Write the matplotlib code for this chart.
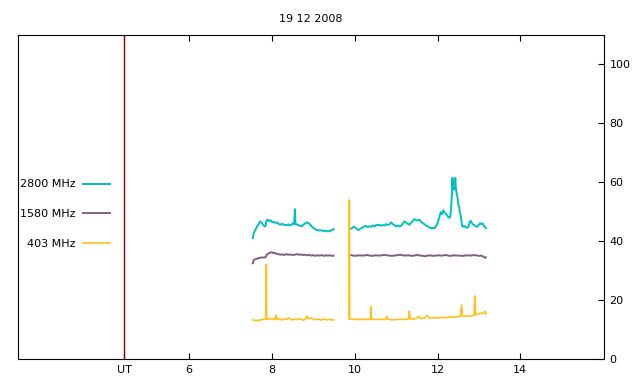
import matplotlib

matplotlib.use("Agg")
import matplotlib.pyplot as plt

# radio flux, 19 12 2008 -- two observing blocks with a gap around 9.5-9.85 UT
t_2800_a = [7.54, 7.56, 7.58, 7.61, 7.64, 7.68, 7.72, 7.75, 7.79, 7.83, 7.85, 7.87,
            7.90, 7.93, 7.97, 8.00, 8.04, 8.08, 8.12, 8.16, 8.20, 8.25, 8.30, 8.35,
            8.40, 8.45, 8.50, 8.54, 8.555, 8.57, 8.63, 8.68, 8.72, 8.76, 8.80, 8.85,
            8.90, 8.95, 9.00, 9.05, 9.10, 9.15, 9.20, 9.25, 9.30, 9.35, 9.40, 9.45, 9.49]
v_2800_a = [41.0, 42.5, 43.3, 44.0, 45.0, 45.8, 46.7, 46.3, 45.5, 45.0, 45.2, 47.0,
            47.3, 46.8, 47.1, 46.5, 46.6, 46.2, 46.4, 45.9, 45.6, 45.9, 45.5, 45.4,
            45.7, 45.3, 46.0, 45.8, 50.9, 45.9, 45.5, 45.2, 45.0, 45.6, 46.0, 46.4,
            46.0, 45.2, 44.5, 44.0, 43.8, 43.6, 43.7, 43.4, 43.6, 43.3, 43.5, 43.7, 44.1]

t_2800_b = [9.86, 9.90, 9.94, 9.98, 10.02, 10.06, 10.10, 10.14, 10.18, 10.22, 10.27,
            10.31, 10.35, 10.40, 10.44, 10.48, 10.52, 10.56, 10.60, 10.64, 10.68, 10.72,
            10.76, 10.80, 10.84, 10.88, 10.92, 10.96, 11.00, 11.04, 11.08, 11.12, 11.16,
            11.20, 11.24, 11.28, 11.32, 11.36, 11.40, 11.44, 11.48, 11.52, 11.56, 11.60,
            11.64, 11.68, 11.72, 11.76, 11.80, 11.84, 11.88, 11.92, 11.96, 12.00, 12.03,
            12.06, 12.08, 12.11, 12.14, 12.17, 12.20, 12.23, 12.26, 12.29, 12.31, 12.33,
            12.35, 12.36, 12.37, 12.38, 12.40, 12.41, 12.43, 12.44, 12.46, 12.48, 12.50,
            12.52, 12.54, 12.56, 12.58, 12.60, 12.64, 12.68, 12.72, 12.76, 12.78, 12.81,
            12.84, 12.88, 12.92, 12.96, 13.00, 13.03, 13.06, 13.09, 13.12, 13.15, 13.17]
v_2800_b = [44.4, 44.2, 44.5, 44.9, 44.5, 44.0, 43.8, 44.3, 44.6, 44.9, 45.2,
            44.8, 45.0, 44.9, 45.3, 45.0, 45.6, 45.4, 45.6, 45.2, 45.5, 45.3,
            45.8, 45.5, 45.7, 46.4, 45.8, 45.4, 45.1, 45.3, 45.0, 45.2, 46.0,
            46.7, 46.3, 45.9, 45.6, 46.2, 46.8, 47.5, 47.2, 47.0, 47.3, 46.6,
            46.2, 45.8, 45.3, 45.0, 44.7, 44.4, 44.5, 44.4, 45.0, 46.1, 47.5,
            49.0, 49.9, 49.2, 50.5, 49.8, 49.3, 48.8, 48.2, 47.9, 48.5, 52.0,
            56.3, 61.5, 58.0, 60.5, 57.5, 59.0, 61.5, 58.5, 56.3, 55.0, 52.5,
            51.8, 49.5, 48.8, 46.5, 44.9, 45.2, 44.8, 44.5, 45.5, 46.7, 46.8,
            45.9, 45.5, 45.0, 44.9, 45.6, 46.1, 45.8, 46.0, 45.2, 44.8, 44.4]

t_1580_a = [7.54, 7.56, 7.60, 7.65, 7.70, 7.75, 7.80, 7.85, 7.88, 7.92, 7.96, 8.00,
            8.04, 8.08, 8.12, 8.16, 8.20, 8.25, 8.30, 8.35, 8.40, 8.45, 8.50, 8.55,
            8.60, 8.65, 8.70, 8.75, 8.80, 8.85, 8.90, 8.95, 9.00, 9.05, 9.10, 9.15,
            9.20, 9.25, 9.30, 9.35, 9.40, 9.45, 9.49]
v_1580_a = [32.5, 33.6, 33.9, 34.1, 34.3, 34.5, 34.4, 34.6, 35.5, 35.8, 36.1, 36.3,
            35.9, 36.0, 35.7, 35.6, 35.4, 35.5, 35.3, 35.6, 35.4, 35.5, 35.3, 35.4,
            35.6, 35.4, 35.5, 35.3, 35.4, 35.2, 35.4, 35.1, 35.3, 35.0, 35.2, 35.1,
            35.3, 35.0, 35.2, 35.1, 35.2, 35.0, 35.1]

t_1580_b = [9.86, 9.90, 10.0, 10.1, 10.2, 10.3, 10.4, 10.5, 10.6, 10.7, 10.8, 10.9,
            11.0, 11.1, 11.2, 11.3, 11.4, 11.5, 11.6, 11.7, 11.8, 11.9, 12.0, 12.1,
            12.2, 12.3, 12.4, 12.5, 12.6, 12.7, 12.8, 12.9, 13.0, 13.05, 13.10, 13.14, 13.17]
v_1580_b = [35.1, 35.3, 35.0, 35.2, 35.1, 35.3, 35.0, 35.2, 35.1, 35.3, 35.2, 35.0,
            35.2, 35.4, 35.1, 35.2, 35.0, 35.3, 35.1, 34.9, 35.2, 35.0, 35.2, 35.1,
            35.3, 35.0, 35.2, 35.1, 35.0, 35.2, 35.1, 35.3, 35.0, 35.1, 34.8, 34.4, 34.5]

t_403_a = [7.54, 7.58, 7.62, 7.66, 7.70, 7.74, 7.78, 7.82, 7.85, 7.86, 7.865, 7.87,
           7.875, 7.90, 7.95, 8.00, 8.05, 8.08, 8.10, 8.12, 8.20, 8.25, 8.30, 8.35,
           8.40, 8.45, 8.50, 8.55, 8.60, 8.65, 8.70, 8.75, 8.80, 8.85, 8.87, 8.90,
           8.95, 9.00, 9.05, 9.10, 9.15, 9.20, 9.25, 9.30, 9.35, 9.40, 9.45, 9.49]
v_403_a = [13.3, 13.0, 13.2, 12.9, 13.3, 13.2, 13.5, 13.4, 13.6, 22.6, 32.0, 22.0,
           13.6, 13.5, 13.8, 13.4, 13.7, 13.3, 14.9, 13.5, 13.6, 13.2, 13.6, 13.4,
           14.0, 13.5, 13.3, 13.5, 13.4, 13.7, 13.5, 13.2, 13.4, 14.6, 13.6, 13.8,
           13.9, 13.6, 13.3, 13.5, 13.4, 13.2, 13.6, 13.4, 13.3, 13.5, 13.2, 13.3]

t_403_b = [9.86, 9.87, 9.88, 9.92, 10.0, 10.1, 10.2, 10.3, 10.38, 10.39, 10.40, 10.45,
           10.5, 10.6, 10.7, 10.75, 10.78, 10.8, 10.9, 11.0, 11.1, 11.2, 11.3, 11.32,
           11.34, 11.4, 11.5, 11.55, 11.6, 11.7, 11.75, 11.8, 11.9, 12.0, 12.1, 12.2,
           12.3, 12.4, 12.5, 12.55, 12.58, 12.6, 12.7, 12.8, 12.88, 12.9, 12.92, 13.0,
           13.05, 13.1, 13.15, 13.17]
v_403_b = [13.6, 54.0, 13.6, 13.5, 13.5, 13.4, 13.5, 13.4, 13.5, 17.8, 13.6, 13.5,
           13.4, 13.5, 13.4, 13.5, 14.5, 13.5, 13.3, 13.4, 13.5, 13.4, 13.6, 16.2,
           13.7, 13.5, 13.8, 14.5, 13.7, 14.0, 14.8, 13.9, 14.0, 13.9, 14.1, 14.0,
           14.3, 14.2, 14.4, 14.6, 18.4, 14.5, 14.6, 14.5, 14.9, 21.4, 15.0, 15.3,
           15.6, 15.4, 16.2, 15.3]

sunrise = 4.43
xticks = [sunrise, 6, 8, 10, 12, 14]
xticklabels = ["UT", "6", "8", "10", "12", "14"]
yticks = [0, 20, 40, 60, 80, 100]

c2800 = "#00c0c0"
c1580 = "#806080"
c403 = "#ffc020"

plt.rcParams["font.family"] = "DejaVu Sans"
plt.rcParams["font.size"] = 8

fig = plt.figure(figsize=(6.4, 3.84), dpi=100)
ax = fig.add_axes([0.0281, 0.0651, 0.9157, 0.8438])

ax.axvline(sunrise, color="#8b0000", lw=1.0)

ax.plot(t_2800_a, v_2800_a, color=c2800, lw=1.4, label="2800 MHz")
ax.plot(t_2800_b, v_2800_b, color=c2800, lw=1.4)
ax.plot(t_1580_a, v_1580_a, color=c1580, lw=1.4, label="1580 MHz")
ax.plot(t_1580_b, v_1580_b, color=c1580, lw=1.4)
ax.plot(t_403_a, v_403_a, color=c403, lw=1.2, label="403 MHz")
ax.plot(t_403_b, v_403_b, color=c403, lw=1.2)

ax.set_xlim(1.87, 16.02)
ax.set_ylim(0, 110)

ax.set_xticks(xticks)
ax.set_xticklabels(xticklabels)
ax.set_yticks(yticks)
ax.yaxis.tick_right()
ax.tick_params(axis="x", direction="in", length=4, width=0.8, top=True, pad=4)
ax.tick_params(axis="y", direction="in", length=4, width=0.8, left=False, right=True, pad=4)
for s in ax.spines.values():
    s.set_linewidth(0.8)

ax.set_title("19 12 2008", fontsize=8, pad=9)

ax.legend(loc="upper right", bbox_to_anchor=(0.157, 0.554), markerfirst=False,
          frameon=False, handlelength=2.4, handletextpad=0.7, labelspacing=1.78,
          borderaxespad=0.0, borderpad=0.0)

fig.savefig("out.png", dpi=100)
